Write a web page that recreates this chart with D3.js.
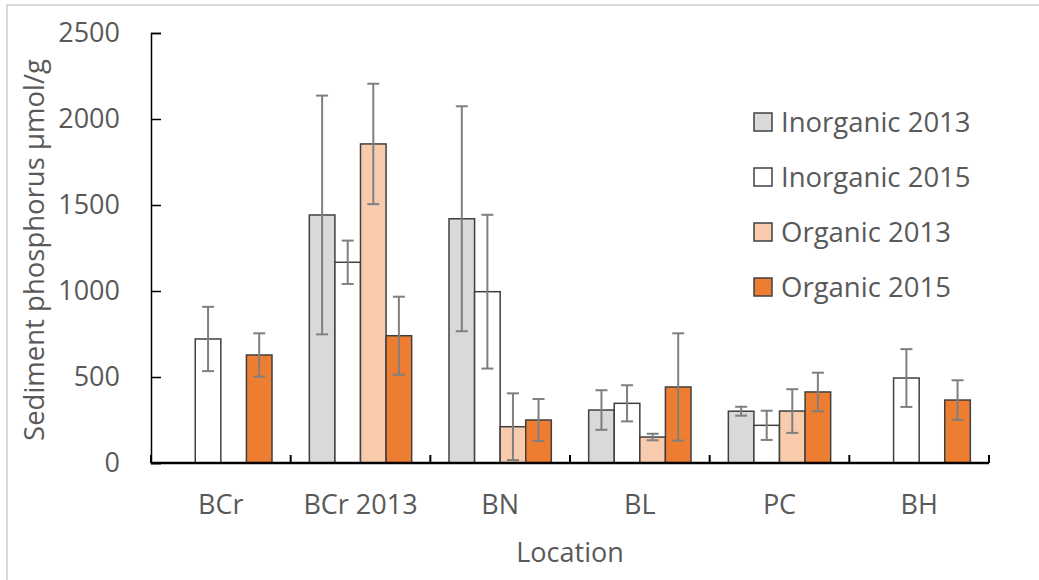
<!DOCTYPE html>
<html lang="en">
<head>
    <meta charset="UTF-8">
    <title>Sediment phosphorus by location</title>
    <script src="https://d3js.org/d3.v7.min.js"></script>
    <style>
        body { margin: 0; background: #fff; }
        text { font-family: "Open Sans", sans-serif; fill: #595959; }
    </style>
</head>
<body>
    <svg id="chart" width="1039" height="580"></svg>
    <script>
        // data
        var locations = ["BCr", "BCr 2013", "BN", "BL", "PC", "BH"];
        var seriesNames = ["Inorganic 2013", "Inorganic 2015", "Organic 2013", "Organic 2015"];
        var seriesColors = ["#D9D9D9", "#FFFFFF", "#F8CBAD", "#ED7D31"];
        var inorganic2013 = [0, 1442, 1420, 308, 301, 0];
        var inorganic2015 = [721, 1167, 996, 347, 219, 494];
        var organic2013 = [0, 1855, 211, 151, 302, 0];
        var organic2015 = [628, 740, 250, 442, 413, 366];
        var inorganic2013Err = [0, 694, 654, 115, 26, 0];
        var inorganic2015Err = [187, 126, 447, 105, 85, 168];
        var organic2013Err = [0, 350, 194, 19, 127, 0];
        var organic2015Err = [126, 227, 122, 312, 112, 115];
        var yTicks = [0, 500, 1000, 1500, 2000, 2500];

        var values = [inorganic2013, inorganic2015, organic2013, organic2015];
        var errors = [inorganic2013Err, inorganic2015Err, organic2013Err, organic2015Err];

        var svg = d3.select("#chart");

        // light frame of the original picture
        svg.append("rect")
            .attr("x", 7).attr("y", 5)
            .attr("width", 1100).attr("height", 700)
            .attr("fill", "none").attr("stroke", "#d9d9d9").attr("stroke-width", 2);

        var plotLeft = 151, plotRight = 989, plotTop = 33, plotBottom = 463;

        var x = d3.scaleBand().domain(locations).range([plotLeft, plotRight])
            .paddingInner(0).paddingOuter(0);
        var xs = d3.scaleBand().domain(seriesNames).range([0, x.bandwidth()])
            .paddingOuter(0.73).paddingInner(0);
        var y = d3.scaleLinear().domain([0, 2500]).range([plotBottom, plotTop]);

        // bars
        var rows = [];
        locations.forEach(function (loc, i) {
            seriesNames.forEach(function (s, j) {
                if (values[j][i] > 0) {
                    rows.push({ loc: loc, s: s, j: j, v: values[j][i], e: errors[j][i] });
                }
            });
        });

        svg.append("g").selectAll("rect")
            .data(rows)
            .enter().append("rect")
            .attr("x", function (d) { return x(d.loc) + xs(d.s); })
            .attr("width", xs.bandwidth())
            .attr("y", function (d) { return y(d.v); })
            .attr("height", function (d) { return plotBottom - y(d.v); })
            .attr("fill", function (d) { return seriesColors[d.j]; })
            .attr("stroke", "#404040")
            .attr("stroke-width", 1.5);

        // error bars
        var eb = svg.append("g").attr("stroke", "#7f7f7f").attr("stroke-width", 2);
        rows.forEach(function (d) {
            var cx = x(d.loc) + xs(d.s) + xs.bandwidth() / 2;
            eb.append("line").attr("x1", cx).attr("x2", cx)
                .attr("y1", y(d.v + d.e)).attr("y2", y(d.v - d.e));
            [d.v + d.e, d.v - d.e].forEach(function (v) {
                eb.append("line").attr("x1", cx - 6).attr("x2", cx + 6)
                    .attr("y1", y(v)).attr("y2", y(v));
            });
        });

        // y axis
        var yAxis = svg.append("g")
            .attr("transform", "translate(" + plotLeft + ",0)")
            .call(d3.axisLeft(y).tickValues(yTicks).tickFormat(d3.format("d"))
                .tickSize(-10).tickPadding(31));
        yAxis.select(".domain").attr("stroke", "#000").attr("stroke-width", 1.5);
        yAxis.selectAll(".tick line").attr("stroke", "#000").attr("stroke-width", 1.5);
        yAxis.selectAll(".tick text")
            .style("font-size", "27px").style("font-family", "Open Sans, sans-serif")
            .attr("fill", "#595959");

        // x axis
        var xAxis = svg.append("g")
            .attr("transform", "translate(0," + plotBottom + ")")
            .call(d3.axisBottom(x).tickSize(0).tickPadding(32));
        xAxis.select(".domain").remove();
        xAxis.selectAll(".tick text")
            .style("font-size", "27px").style("font-family", "Open Sans, sans-serif")
            .attr("fill", "#595959");
        svg.append("line")
            .attr("x1", plotLeft).attr("x2", plotRight)
            .attr("y1", plotBottom).attr("y2", plotBottom)
            .attr("stroke", "#000").attr("stroke-width", 2.5);
        var bounds = locations.map(function (l) { return x(l); }).concat([plotRight]);
        svg.append("g").selectAll("line")
            .data(bounds)
            .enter().append("line")
            .attr("x1", function (d) { return d; }).attr("x2", function (d) { return d; })
            .attr("y1", plotBottom).attr("y2", plotBottom - 8)
            .attr("stroke", "#000").attr("stroke-width", 2);

        // axis titles
        svg.append("text")
            .attr("x", (plotLeft + plotRight) / 2).attr("y", 562)
            .attr("text-anchor", "middle")
            .style("font-size", "27px")
            .text("Location");
        svg.append("text")
            .attr("transform", "translate(44,250) rotate(-90)")
            .attr("text-anchor", "middle")
            .style("font-size", "27.5px")
            .text("Sediment phosphorus µmol/g");

        // legend
        var legend = svg.append("g");
        seriesNames.forEach(function (s, i) {
            var ly = 122 + i * 55;
            legend.append("rect")
                .attr("x", 754).attr("y", ly - 9)
                .attr("width", 18).attr("height", 18)
                .attr("fill", seriesColors[i])
                .attr("stroke", "#404040").attr("stroke-width", 1.5);
            legend.append("text")
                .attr("x", 781).attr("y", ly + 10)
                .style("font-size", "27.5px")
                .text(s);
        });
    </script>
</body>
</html>
